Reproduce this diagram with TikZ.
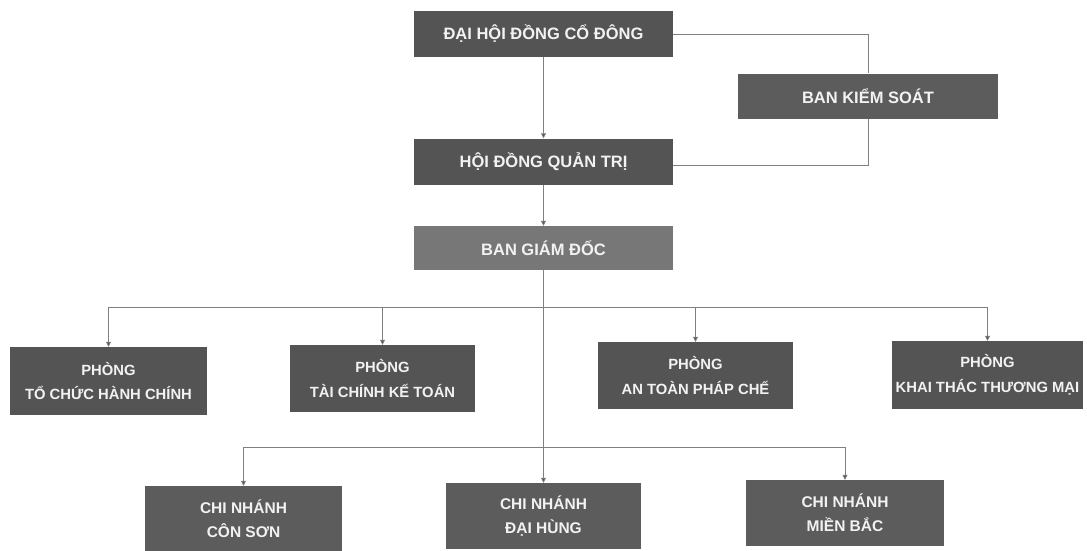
\documentclass[tikz,border=0pt]{standalone}
\usepackage{fontspec}
\setmainfont{Liberation Sans}
\usetikzlibrary{arrows.meta}
\definecolor{boxdark}{HTML}{545454}
\definecolor{boxmid}{HTML}{5C5C5C}
\definecolor{boxlight}{HTML}{777777}
\definecolor{linegrey}{HTML}{808080}
\definecolor{txt}{HTML}{F2F2F2}
\tikzset{
  orgbox/.style={fill=boxdark, draw=none, text=txt, align=center,
    font=\fontsize{15.5}{24}\selectfont\bfseries, inner sep=0pt},
  topbox/.style={orgbox, font=\fontsize{16.5}{24}\selectfont\bfseries},
  deptbox/.style={orgbox, font=\fontsize{14.8}{24.5}\selectfont\bfseries},
  conn/.style={draw=linegrey, line width=0.7pt},
  arr/.style={conn, -{Triangle[length=5pt,width=5pt,fill=boxdark]}},
}
\begin{document}
\begin{tikzpicture}[x=1pt,y=-1pt]
\useasboundingbox (0,0) rectangle (1087,550);
\fill[white] (0,0) rectangle (1087,550);
% top level
\node[topbox, minimum width=259pt, minimum height=46pt] (dh) at (543.5,34) {ĐẠI HỘI ĐỒNG CỔ ĐÔNG};
\node[topbox, fill=boxmid, minimum width=260pt, minimum height=45pt] (bks) at (868,96) {BAN KIỂM SOÁT};
\node[topbox, minimum width=259pt, minimum height=46pt] (hd) at (543.5,161.5) {HỘI ĐỒNG QUẢN TRỊ};
\node[topbox, fill=boxlight, minimum width=259pt, minimum height=44pt] (bgd) at (543.5,248) {BAN GIÁM ĐỐC};
% departments
\node[deptbox, minimum width=197pt, minimum height=68pt] (p1) at (108.5,381) {PHÒNG\\TỔ CHỨC HÀNH CHÍNH};
\node[deptbox, minimum width=185pt, minimum height=67pt] (p2) at (382.5,378.5) {PHÒNG\\TÀI CHÍNH KẾ TOÁN};
\node[deptbox, minimum width=195pt, minimum height=67pt] (p3) at (695.5,375.5) {PHÒNG\\AN TOÀN PHÁP CHẾ};
\node[deptbox, minimum width=191pt, minimum height=68pt] (p4) at (987.5,375) {PHÒNG\\KHAI THÁC THƯƠNG MẠI};
% branches
\node[orgbox, fill=boxmid, minimum width=197pt, minimum height=66pt] (c1) at (243.5,519) {CHI NHÁNH\\CÔN SƠN};
\node[orgbox, fill=boxmid, minimum width=195pt, minimum height=66pt] (c2) at (543.5,516) {CHI NHÁNH\\ĐẠI HÙNG};
\node[orgbox, fill=boxmid, minimum width=198pt, minimum height=66pt] (c3) at (845,513) {CHI NHÁNH\\MIỀN BẮC};
% junctions
\coordinate (j1) at (543.5,307);
\coordinate (j2) at (543.5,447);
% connectors
\draw[arr] (dh) -- (hd);
\draw[conn] (dh.east) -| (bks.north);
\draw[conn] (bks.south) |- ([yshift=-4pt]hd.east);
\draw[arr] (hd) -- (bgd);
\draw[arr] (bgd) -- (c2);
\draw[arr] (j1) -| (p1.north);
\draw[arr] (j1) -| (p2.north);
\draw[arr] (j1) -| (p3.north);
\draw[arr] (j1) -| (p4.north);
\draw[arr] (j2) -| (c1.north);
\draw[arr] (j2) -| (c3.north);
\end{tikzpicture}
\end{document}
